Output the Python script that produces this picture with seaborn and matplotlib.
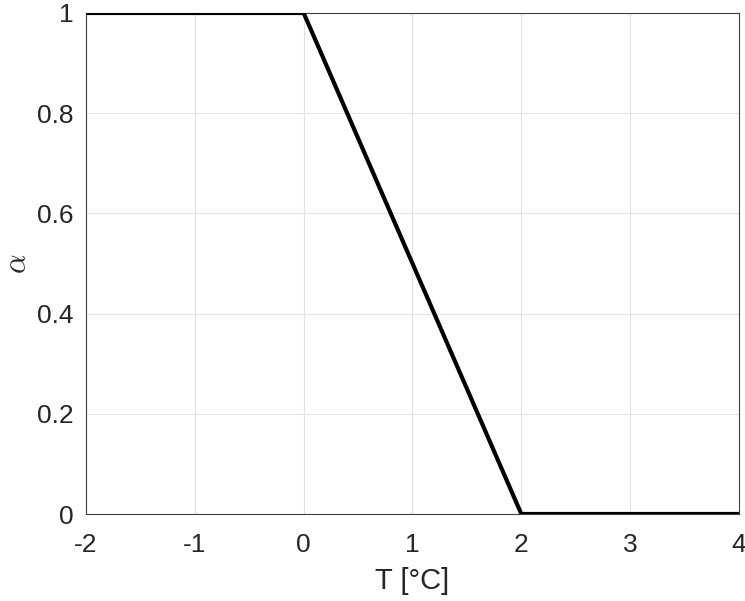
import matplotlib
matplotlib.use("Agg")
import matplotlib.pyplot as plt
import seaborn as sns
import pandas as pd

T = [-2, 0, 2, 4]
alpha = [1, 1, 0, 0]
xticks = [-2, -1, 0, 1, 2, 3, 4]
yticks = [0, 0.2, 0.4, 0.6, 0.8, 1]
ytick_labels = ["0", "0.2", "0.4", "0.6", "0.8", "1"]

sns.set_style("white")
plt.rcParams['font.family'] = ['Liberation Sans', 'DejaVu Sans']
plt.rcParams['mathtext.fontset'] = 'cm'

fig = plt.figure(figsize=(7.45, 6.01), dpi=100)
ax = fig.add_axes([86/745, 1 - 514/601, (739-86)/745, (514-13)/601])

df = pd.DataFrame({"T": T, "alpha": alpha})
sns.lineplot(data=df, x="T", y="alpha", ax=ax, color="black", linewidth=3, sort=False, zorder=3)

ax.set_xlim(-2, 4)
ax.set_ylim(0, 1)
ax.set_xticks(xticks)
ax.set_xticklabels([str(v) for v in xticks])
ax.set_yticks(yticks)
ax.set_yticklabels(ytick_labels)
ax.grid(True, color="#e3e3e3", linewidth=0.8)
ax.set_axisbelow(True)
for s in ax.spines.values():
    s.set_color("#404040")
    s.set_linewidth(0.8)
    s.set_visible(True)
ax.tick_params(direction="in", length=5, width=0.8, color="#404040", labelsize=19,
               labelcolor="#262626", top=False, right=False)
ax.tick_params(axis="x", pad=14)
ax.tick_params(axis="y", pad=9)
ax.set_xlabel("T [°C]", fontsize=21, color="#262626", labelpad=7)
ax.set_ylabel(r"$\alpha$", fontsize=22, color="#262626", labelpad=3)

fig.savefig("out.png", dpi=100)
